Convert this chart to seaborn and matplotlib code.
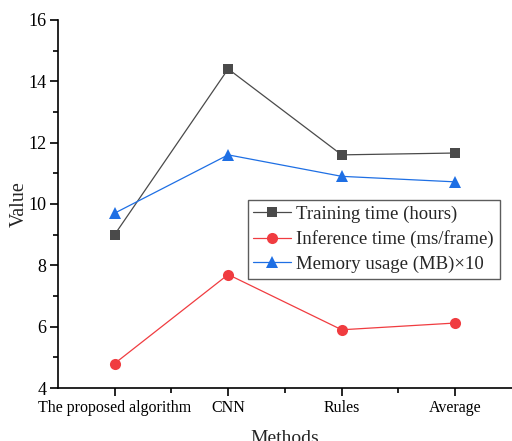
import matplotlib
matplotlib.use("Agg")
import matplotlib.pyplot as plt
from matplotlib.ticker import MultipleLocator, FixedLocator
import seaborn as sns
import pandas as pd

methods = ["The proposed algorithm", "CNN", "Rules", "Average"]
training_time = [9.0, 14.4, 11.6, 11.66]
inference_time = [4.8, 7.7, 5.9, 6.12]
memory_usage = [9.7, 11.6, 10.9, 10.72]

series_names = ["Training time (hours)", "Inference time (ms/frame)", "Memory usage (MB)\u00d710"]
series_values = [training_time, inference_time, memory_usage]
colors = ["#4a4a4a", "#f03c40", "#1e6fe4"]
markers = ["s", "o", "^"]
marker_sizes = [7, 8, 8.5]

rows = []
for name, vals in zip(series_names, series_values):
    for i, (m, v) in enumerate(zip(methods, vals)):
        rows.append({"pos": i, "Methods": m, "Value": v, "Series": name})
df = pd.DataFrame(rows)

sns.set_theme(style="ticks")
plt.rcParams["font.family"] = ["Liberation Serif", "DejaVu Serif"]

fig = plt.figure(figsize=(5.12, 4.41), dpi=100)
ax = fig.add_axes([0.113, 0.120, 0.887, 0.835])

handles = []
for name, col, mk, ms in zip(series_names, colors, markers, marker_sizes):
    sub = df[df["Series"] == name]
    sns.lineplot(data=sub, x="pos", y="Value", ax=ax, color=col, linewidth=0.9,
                 marker=mk, markersize=ms, markeredgewidth=0, label=name,
                 legend=False)
    handles.append(ax.lines[-1])

ax.set_xlim(-0.5, 3.5)
ax.set_ylim(4, 16)
ax.xaxis.set_major_locator(FixedLocator(range(len(methods))))
ax.set_xticklabels(methods)
ax.xaxis.set_minor_locator(FixedLocator([0.5, 1.5, 2.5]))
ax.yaxis.set_major_locator(MultipleLocator(2))
ax.yaxis.set_minor_locator(MultipleLocator(1))

for side in ["top", "right"]:
    ax.spines[side].set_visible(False)
for side in ["left", "bottom"]:
    ax.spines[side].set_linewidth(1.2)
    ax.spines[side].set_color("black")

ax.tick_params(axis="both", which="major", direction="out", length=5.5, width=1.2,
               labelsize=11.5, colors="black", pad=3)
ax.tick_params(axis="y", which="major", labelsize=13, pad=2.5)
ax.tick_params(axis="both", which="minor", direction="out", length=3.6, width=1.2,
               colors="black")

ax.set_xlabel("Methods", fontsize=14, labelpad=10)
ax.set_ylabel("Value", fontsize=14.5, labelpad=0)

leg = ax.legend(handles, series_names, loc="upper left",
                bbox_to_anchor=(0.418, 0.511), fontsize=13.5, frameon=True,
                fancybox=False, edgecolor="#333333", handlelength=2.0,
                handletextpad=0.3, borderpad=0.3, labelspacing=0.4,
                borderaxespad=0)
leg.get_frame().set_linewidth(1.0)

fig.savefig("out.png", dpi=100)
